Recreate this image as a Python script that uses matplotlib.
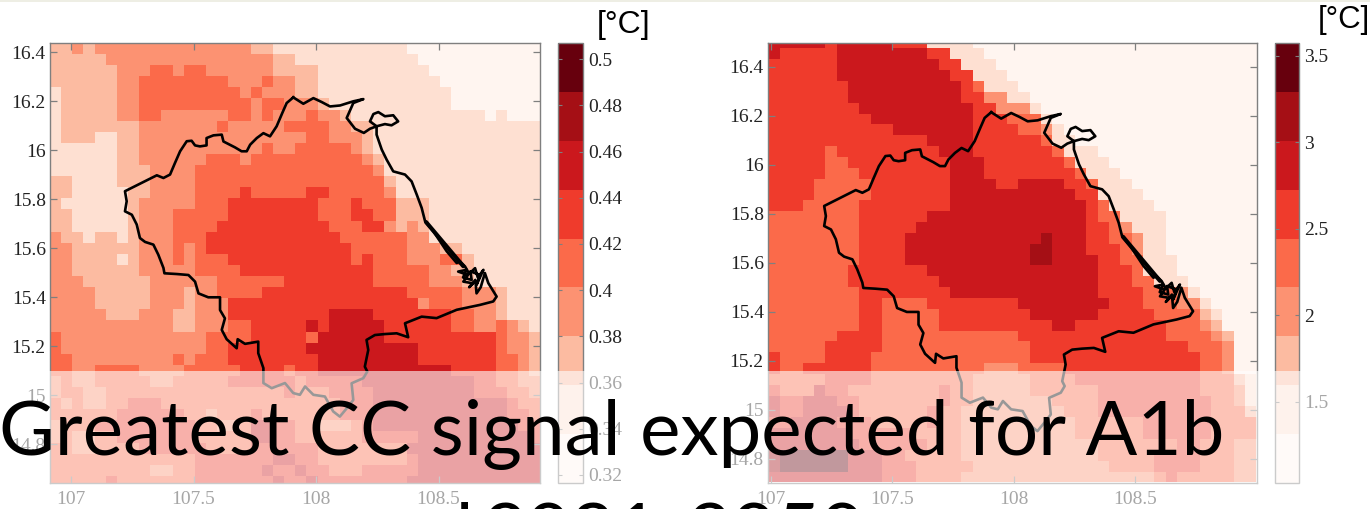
import numpy as np
import matplotlib
matplotlib.use("Agg")
import matplotlib.pyplot as plt
from matplotlib.cm import ScalarMappable
from matplotlib.colors import BoundaryNorm, ListedColormap
from matplotlib.patches import Rectangle

W, H = 1370, 509

# colour classes, one digit per grid cell, north to south
LEFT_ROWS = [
    "2232333333 3333333322 1111111111 1100000000 0000",
    "2222233333 3333333333 2211111111 1110000000 0000",
    "2222223334 4344333333 2222111111 1111000000 0000",
    "2222223344 4444443334 3322111111 1111100000 0000",
    "1222223344 4444444343 3322111111 1111110000 0000",
    "1222223344 4444444434 4333211111 1111110000 0000",
    "1222223344 3333334434 3334332111 1111111110 1000",
    "1222222233 3333343333 3444433221 1111111111 1111",
    "1222112233 3333333333 3334433321 1111111111 1111",
    "1111112233 3333333334 3344444321 1111111111 1111",
    "1111112233 3333444344 4444444432 1111111111 1111",
    "1111112223 3334444444 4444444443 1111111111 1111",
    "2211112223 3334444444 4444444444 2111111111 1111",
    "2211111223 3334444544 4445544444 3111111111 1111",
    "2111111233 3334445555 5555444544 4222111111 1111",
    "2211111233 3444445555 5555444554 4222111111 1111",
    "2211111233 3444455555 5555544455 3232111111 1111",
    "3221221233 3444555555 5555554444 4433111111 1111",
    "3322222233 3434555555 5555555444 4433322111 1111",
    "3322221233 3434445555 5555555454 4433344211 1111",
    "3322222233 3334444555 5555555554 4444332211 1111",
    "3332222223 3333344444 4555555554 4444333211 1111",
    "3333222223 3323344445 5555555555 5544444333 2111",
    "3333222223 3323335555 5555555555 5553444333 2111",
    "3333322233 3223335555 5555566665 5555554433 2111",
    "3333333333 3223334455 5556566666 5555554433 4321",
    "4333333333 3333444455 5554666666 5555555555 4332",
    "4333333333 3333445555 5556666666 6665555555 4332",
    "4433333333 3434445555 5555666666 6665555555 4432",
    "4433444433 3344444555 5455666666 6666665555 4432",
    "3433444443 3444445555 5545555566 6666666655 4433",
    "3443344444 4444444444 4544455556 6666666655 5443",
    "4343344555 4444444444 4444445556 6666666666 6544",
    "4444445555 5544344454 4444445556 6666666666 6554",
    "3444555555 5554433466 5544333456 6666666666 6655",
    "3433445555 5554444466 5544444455 5556666666 6665",
    "4433444455 5555444455 5555444444 4466666666 6666",
    "4444444444 4445555555 6655444444 4456666666 6666",
    "4444444443 3445555556 5565544455 5556666666 6666",
    "4444454444 4445555555 6556555555 5566666666 6666",
]
RIGHT_ROWS = [
    "6666656666 6555111100 0000000000 0000000000 0000",
    "6555556666 6666551110 0000000000 0000000000 0000",
    "5555556666 6666655111 0000000000 0000000000 0000",
    "5555556666 6666665511 1000000000 0000000000 0000",
    "5555555666 6666666541 1100000000 0000000000 0000",
    "5555555666 6666666553 3110000000 0000000000 0000",
    "5555555566 6666666655 3331000000 0000000000 0000",
    "5555555556 6666666655 5444100000 0000000000 0000",
    "5555555555 5666666655 5544310000 0000000000 0000",
    "5555555555 5555666655 5555411000 0000000000 0000",
    "5555545555 5555566655 5555541110 0000000000 0000",
    "5555544555 5555556665 5555554111 0000000000 0000",
    "5555544455 5555556665 5555555411 1000000000 0000",
    "5555444445 5555556666 5566665541 1100000000 0000",
    "5555444445 5555556666 6666666551 1110000000 0000",
    "5554444455 5555556666 6666666654 1111000000 0000",
    "4444444455 5555666666 6666666654 4111100000 0000",
    "4444444455 5556666666 6666666655 4311100000 0000",
    "4444444455 5566666666 6666766655 4431100000 0000",
    "4444444455 5566666666 6667766655 5431100000 0000",
    "4444444455 5566666666 6667766665 5441110000 0000",
    "4444444555 5555666666 6666666665 5541110000 0000",
    "4444444555 5555566666 6666666665 5544111000 0000",
    "4444444455 5555556666 6666666665 5554443100 0000",
    "4444444455 4444555555 5566666666 5554443310 0000",
    "4444444455 4444455555 5556666665 5555444421 0000",
    "4444444455 4444455555 5555566555 5555544432 0000",
    "4444445555 4444444444 4455555555 5555544443 2000",
    "4444455555 4444444444 4445555555 5555555444 3000",
    "5444455554 4444444444 4445555555 5555555544 3000",
    "5445555554 4444444443 3344445555 5555555544 3000",
    "4444455554 4444444433 3334444555 5555555544 4210",
    "5444655444 4444454433 3334444445 5555555544 4310",
    "6556665544 4444454433 3333344445 5555555554 4310",
    "6556666544 4444544333 3333334445 5555555554 4420",
    "5566665554 4444544333 3333333444 4445555554 4441",
    "6666666555 5554444333 3333333444 4445555554 4441",
    "6666666655 5555444333 3333333334 4444445544 4330",
    "7888888666 5544444333 3333333334 4444555544 4330",
    "7888888666 5554444433 3333333333 4444555544 4330",
    "6666666666 5554444333 3333333333 3333454444 4330",
]

# province outline
OUTLINE_LON = [107.907, 107.880, 107.862, 107.839, 107.812, 107.785, 107.758, 107.731, 107.717, 107.696,
               107.669, 107.642, 107.622, 107.615, 107.581, 107.553, 107.553, 107.526, 107.506, 107.492,
               107.472, 107.445, 107.424, 107.404, 107.377, 107.350, 107.322, 107.295, 107.261, 107.220,
               107.227, 107.220, 107.248, 107.268, 107.281, 107.302, 107.336, 107.356, 107.377, 107.381,
               107.431, 107.479, 107.506, 107.520, 107.560, 107.608, 107.608, 107.628, 107.615, 107.635,
               107.676, 107.680, 107.710, 107.764, 107.764, 107.785, 107.785, 107.819, 107.873, 107.907,
               107.934, 107.955, 107.989, 108.036, 108.070, 108.097, 108.131, 108.152, 108.145, 108.193,
               108.209, 108.199, 108.213, 108.206, 108.240, 108.281, 108.329, 108.376, 108.363, 108.431,
               108.492, 108.574, 108.669, 108.723, 108.737, 108.703, 108.689, 108.672, 108.655, 108.650,
               108.625, 108.641, 108.601, 108.620, 108.580, 108.614, 108.600, 108.635, 108.630, 108.669,
               108.655, 108.683, 108.660, 108.649, 108.625, 108.608, 108.587, 108.574, 108.533,
               108.479, 108.445, 108.431, 108.411, 108.390, 108.363, 108.315, 108.288, 108.268, 108.247,
               108.247, 108.220, 108.234, 108.254, 108.281, 108.315, 108.335, 108.308, 108.281, 108.247,
               108.220, 108.195, 108.159, 108.125, 108.152, 108.193, 108.152, 108.098, 108.057, 108.023,
               107.989, 107.948, 107.907]
OUTLINE_LAT = [16.215, 16.192, 16.151, 16.097, 16.056, 16.069, 16.049, 16.022, 15.995, 15.995,
               16.011, 16.025, 16.035, 16.063, 16.060, 16.049, 16.019, 16.015, 16.019, 16.038,
               16.036, 15.995, 15.947, 15.900, 15.886, 15.897, 15.883, 15.870, 15.852, 15.832,
               15.791, 15.750, 15.736, 15.696, 15.641, 15.625, 15.614, 15.573, 15.519, 15.497,
               15.494, 15.490, 15.463, 15.415, 15.399, 15.399, 15.347, 15.313, 15.266, 15.228,
               15.191, 15.228, 15.209, 15.218, 15.171, 15.110, 15.049, 15.028, 15.049, 15.008,
               15.001, 15.035, 15.001, 14.994, 14.933, 14.912, 14.953, 14.980, 15.048, 15.069,
               15.096, 15.116, 15.184, 15.225, 15.245, 15.249, 15.252, 15.236, 15.293, 15.320,
               15.314, 15.348, 15.368, 15.382, 15.402, 15.457, 15.498, 15.440, 15.415, 15.470,
               15.440, 15.456, 15.463, 15.490, 15.504, 15.511, 15.480, 15.470, 15.505, 15.490,
               15.450, 15.511, 15.480, 15.518, 15.495, 15.525, 15.545, 15.539, 15.587,
               15.668, 15.709, 15.764, 15.818, 15.872, 15.900, 15.913, 15.961, 16.002, 16.063,
               16.097, 16.117, 16.147, 16.155, 16.138, 16.142, 16.117, 16.101, 16.106, 16.097,
               16.087, 16.070, 16.087, 16.131, 16.192, 16.208, 16.199, 16.182, 16.178, 16.196,
               16.212, 16.189, 16.215]
SPIT_LON = [108.449, 108.601]
SPIT_LAT = [15.706, 15.526]

X_TICKS = [107, 107.5, 108, 108.5]
X_LABELS = ["107", "107.5", "108", "108.5"]
Y_TICKS = [14.8, 15, 15.2, 15.4, 15.6, 15.8, 16, 16.2, 16.4]
Y_LABELS = ["14.8", "15", "15.2", "15.4", "15.6", "15.8", "16", "16.2", "16.4"]
LEFT_CB_TICKS = [0.32, 0.34, 0.36, 0.38, 0.40, 0.42, 0.44, 0.46, 0.48, 0.50]
LEFT_CB_LABELS = ["0.32", "0.34", "0.36", "0.38", "0.4", "0.42", "0.44", "0.46", "0.48", "0.5"]
RIGHT_CB_TICKS = [1.5, 2, 2.5, 3, 3.5]
RIGHT_CB_LABELS = ["1.5", "2", "2.5", "3", "3.5"]
REDS = ["#fff5f0", "#fee0d2", "#fcbba1", "#fc9272", "#fb6a4a", "#ef3b2c", "#cb181d", "#a50f15", "#67000d"]

FRAME = "#7f7f7f"
SERIF = "Liberation Serif"


def box(x0, y0, x1, y1):
    # pixel box (y down) -> figure fractions [left, bottom, width, height]
    return [x0 / W, 1 - y1 / H, (x1 - x0) / W, (y1 - y0) / H]


def draw_map(fig, rows, rect, xlim, ylim, lon0, dlon, lat0, dlat):
    grid = np.array([[int(c) for c in r.replace(" ", "")] for r in rows])
    ax = fig.add_axes(box(*rect))
    x_edges = lon0 + dlon * np.arange(grid.shape[1] + 1)
    y_edges = lat0 - dlat * np.arange(grid.shape[0] + 1)
    ax.pcolormesh(x_edges, y_edges, grid, cmap=ListedColormap(REDS), vmin=-0.5, vmax=8.5,
                  shading="flat", antialiased=False)
    ax.plot(OUTLINE_LON, OUTLINE_LAT, color="black", lw=1.9, solid_joinstyle="round")
    ax.plot(SPIT_LON, SPIT_LAT, color="black", lw=3.0, solid_capstyle="round")
    ax.set_xlim(*xlim)
    ax.set_ylim(*ylim)
    ax.set_xticks(X_TICKS, X_LABELS, fontfamily=SERIF, fontsize=14, color="#222222")
    ax.set_yticks(Y_TICKS, Y_LABELS, fontfamily=SERIF, fontsize=14, color="#222222")
    ax.tick_params(direction="in", top=True, right=True, length=5, width=0.9, color=FRAME, pad=3)
    ax.tick_params(axis="x", pad=6)
    for s in ax.spines.values():
        s.set_color(FRAME)
        s.set_linewidth(1.0)
    return ax


def draw_colorbar(fig, rect, vmin, vmax, ticks, labels):
    cax = fig.add_axes(box(*rect))
    norm = BoundaryNorm(np.linspace(vmin, vmax, 10), 9)
    cb = fig.colorbar(ScalarMappable(norm=norm, cmap=ListedColormap(REDS)), cax=cax,
                      spacing="proportional")
    cb.set_ticks(ticks, labels=labels, fontfamily=SERIF, fontsize=14, color="#222222")
    cb.minorticks_off()
    cax.tick_params(axis="y", direction="in", left=True, right=True, length=3, width=0.8,
                    color=FRAME, pad=4)
    cb.outline.set_edgecolor(FRAME)
    cb.outline.set_linewidth(1.0)


fig = plt.figure(figsize=(W / 100, H / 100), dpi=100, facecolor="white")

draw_map(fig, LEFT_ROWS, (50, 43, 540, 483), (106.914, 108.914), (14.641, 16.437),
         106.914, 0.0455, 16.437, 0.0453)
draw_map(fig, RIGHT_ROWS, (768, 43, 1257, 483), (106.989, 109.0), (14.70, 16.498),
         106.992, 0.04663, 16.52, 0.04433)
draw_colorbar(fig, (558, 43, 583, 483), 0.3165, 0.507, LEFT_CB_TICKS, LEFT_CB_LABELS)
draw_colorbar(fig, (1275, 43, 1299, 483), 1.03, 3.575, RIGHT_CB_TICKS, RIGHT_CB_LABELS)

fig.text(597 / W, 1 - 25 / H, "[°C]", fontfamily="Liberation Sans", fontsize=23, va="center", ha="left")
fig.text(1318 / W, 1 - 20 / H, "[°C]", fontfamily="Liberation Sans", fontsize=22.5, va="center", ha="left")

# slide furniture: strip along the top, washed-out band and caption over the maps
fig.add_artist(Rectangle((0, 1 - 2 / H), 1, 2 / H, transform=fig.transFigure, color="#eeeee4", lw=0, zorder=5))
fig.add_artist(Rectangle((0, 0), 1, 1 - 371 / H, transform=fig.transFigure, color="white", alpha=0.6, lw=0, zorder=5))
fig.text(-1 / W, 1 - 455 / H, "Greatest CC signal expected for A1b", fontfamily="Lato", fontsize=55,
         color="black", ha="left", va="baseline", zorder=6)
fig.text(474 / W, 1 - 558 / H, "and", fontfamily="Lato", fontsize=55,
         color="black", ha="right", va="baseline", zorder=6)
fig.text(865 / W, 1 - 558 / H, "2031-2050", fontfamily="Lato", fontsize=55,
         color="black", ha="right", va="baseline", zorder=6)

fig.savefig("out.png", dpi=100)
